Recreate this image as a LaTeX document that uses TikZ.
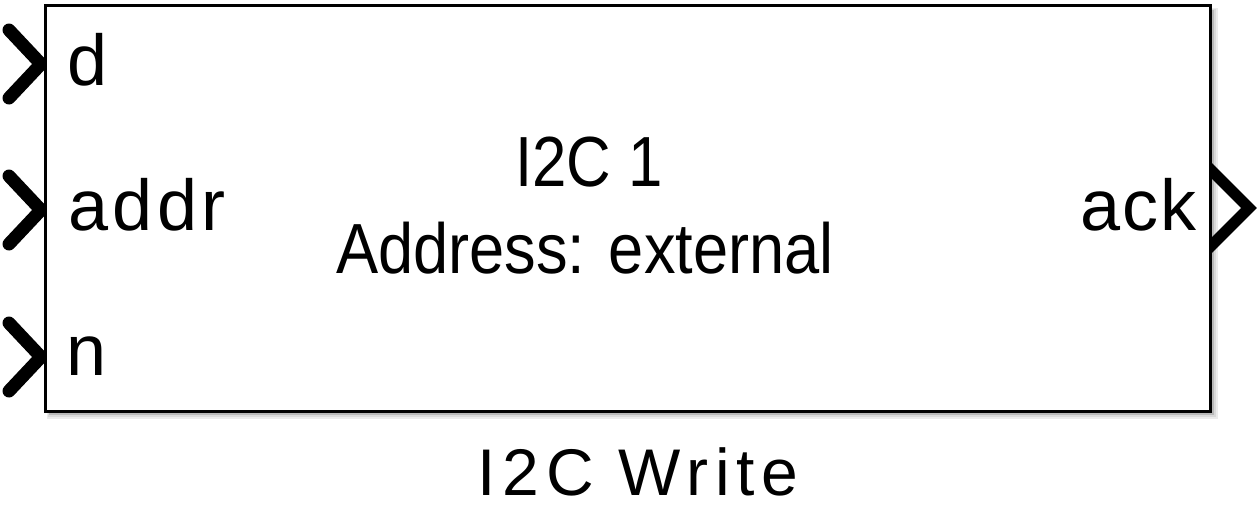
\documentclass[tikz,border=0pt]{standalone}
\usepackage{fontspec}
\setmainfont{Liberation Sans}
\tikzset{
  lbl/.style={inner sep=0pt, outer sep=0pt, font=\fontsize{72}{72}\selectfont},
  inport/.style={line width=13pt, line cap=round, line join=round},
  outport/.style={line width=11pt, line join=miter, miter limit=10},
  blockbox/.style={draw=black, line width=3pt, fill=white}
}
\begin{document}
\begin{tikzpicture}[x=1pt,y=-1pt]
\useasboundingbox (0,0) rectangle (1260,507);
% shadow
\fill[black!8] (47,8) rectangle (1218,419);
\fill[black!15] (48,9) rectangle (1216,417);
\fill[black!28] (49,10) rectangle (1214,415);
% block
\node[blockbox, minimum width=1165pt, minimum height=406pt, inner sep=0pt, anchor=north west] (box) at (43.5,3.5) {};
% input ports
\begin{scope}
\clip (0,0) rectangle (44,507);
\draw[inport] (9,30) -- (41,64) -- (9,98);
\draw[inport] (9,176) -- (41,210) -- (9,244);
\draw[inport] (9,323) -- (41,357) -- (9,391);
\end{scope}
\coordinate (pd) at (box.west |- 0,64);
\coordinate (paddr) at (box.west |- 0,210);
\coordinate (pn) at (box.west |- 0,357);
% output port
\begin{scope}
\clip (1211.5,0) rectangle (1260,507);
\draw[outport] (1206,165) -- (1249,208) -- (1206,251);
\end{scope}
% port labels
\node[lbl, anchor=base west] (ld) at (67.5,85) {d};
\node[lbl, anchor=base west, font=\fontsize{72}{72}\selectfont\addfontfeatures{LetterSpace=6}] (laddr) at (68.5,230) {addr};
\node[lbl, anchor=base west] (ln) at (66,375) {n};
\node[lbl, anchor=base west, font=\fontsize{72}{72}\selectfont\addfontfeatures{LetterSpace=3}] (lack) at (1080.5,230) {ack};
% block text
\node[lbl, anchor=base, font=\fontsize{71}{71}\selectfont] (t1) at (589,186) {\scalebox{0.87}[1]{I2C 1}};
\node[lbl, anchor=base, font=\fontsize{71}{71}\selectfont] (t2) at (585,273) {\scalebox{0.89}[1]{Address: external}};
% block name
\node[lbl, anchor=base, font=\fontsize{66}{66}\selectfont\addfontfeatures{LetterSpace=10}] (name) at (638,495) {I2C Write};
\end{tikzpicture}
\end{document}
